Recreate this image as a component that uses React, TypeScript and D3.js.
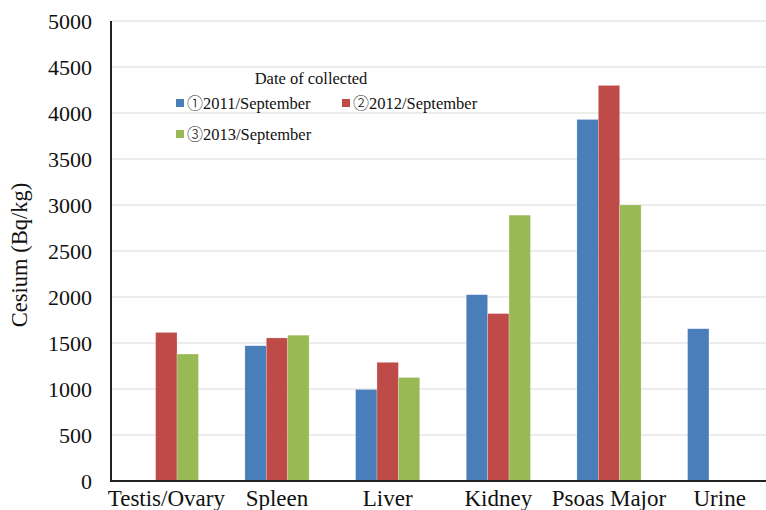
import React from 'react';
import * as d3 from 'd3';

const categories = ['Testis/Ovary', 'Spleen', 'Liver', 'Kidney', 'Psoas Major', 'Urine'];
const series2011 = [null, 1470, 995, 2025, 3930, 1655];
const series2012 = [1615, 1555, 1290, 1820, 4300, null];
const series2013 = [1380, 1585, 1125, 2890, 3000, null];
const seriesMarks = ['①', '②', '③'];
const seriesNames = ['2011/September', '2012/September', '2013/September'];
const seriesColors = ['#4A7EBB', '#BE4B48', '#98B954'];
const yTicks = [0, 500, 1000, 1500, 2000, 2500, 3000, 3500, 4000, 4500, 5000];

const W = 766;
const H = 510;
const margin = { left: 111, top: 21, right: -9, bottom: 29 };
const FONT = '"Liberation Serif", "Times New Roman", serif';
const CJK = '"Noto Sans CJK JP", sans-serif';

const App = () => {
  const innerW = W - margin.left - margin.right;
  const innerH = H - margin.top - margin.bottom;
  const allSeries = [series2011, series2012, series2013];

  const x = d3.scaleBand().domain(categories).range([0, innerW]).paddingInner(0).paddingOuter(0);
  const groupW = x.bandwidth() * 0.58;
  const xs = d3.scaleBand().domain(['0', '1', '2']).range([0, groupW]);
  const y = d3.scaleLinear().domain([0, 5000]).range([innerH, 0]);

  return (
    <svg width={W} height={H} style={{ position: 'absolute', left: 0, top: 0 }}>
      <rect width={W} height={H} fill="#fff" />
      <g transform={`translate(${margin.left},${margin.top})`}>
        {yTicks.map((t) => (
          <line key={t} x1={0} x2={innerW} y1={y(t)} y2={y(t)} stroke="#d9d9d9" strokeWidth={1.2} />
        ))}
        {yTicks.map((t) => (
          <text key={'l' + t} x={-19} y={y(t)} dy="0.35em" textAnchor="end" fontFamily={FONT} fontSize={22} fill="#111">
            {t}
          </text>
        ))}
        {allSeries.map((s, si) =>
          categories.map((c, ci) => {
            const v = s[ci];
            if (v == null) return null;
            const bx = (x(c) as number) + (x.bandwidth() - groupW) / 2 + (xs(String(si)) as number);
            return (
              <rect
                key={si + '-' + ci}
                x={bx}
                y={y(v)}
                width={xs.bandwidth()}
                height={innerH - y(v)}
                fill={seriesColors[si]}
                stroke="#ffffff"
                strokeOpacity={0.4}
                strokeWidth={0.6}
              />
            );
          })
        )}
        <line x1={0} x2={0} y1={0} y2={innerH + 1} stroke="#222" strokeWidth={2} />
        <line x1={0} x2={innerW} y1={innerH} y2={innerH} stroke="#222" strokeWidth={2} />
        {categories.map((c) => (
          <text
            key={c}
            x={(x(c) as number) + x.bandwidth() / 2}
            y={innerH + 25}
            textAnchor="middle"
            fontFamily={FONT}
            fontSize={23}
            fill="#111"
          >
            {c}
          </text>
        ))}
      </g>
      <text
        transform={`translate(27,${margin.top + innerH / 2 + 4}) rotate(-90)`}
        textAnchor="middle"
        fontFamily={FONT}
        fontSize={22.5}
        fill="#111"
      >
        Cesium (Bq/kg)
      </text>
      <g fontFamily={FONT} fontSize={16.5} fill="#111">
        <text x={311} y={84} textAnchor="middle">Date of collected</text>
        {seriesNames.map((n, i) => {
          const lx = i === 1 ? 342 : 176;
          const ly = i === 2 ? 134 : 103;
          return (
            <g key={n}>
              <rect x={lx} y={ly - 4} width={8} height={8} fill={seriesColors[i]} />
              <text x={lx + 11} y={ly} dy="0.35em">
                <tspan fontFamily={CJK} fontSize={16} fontWeight={300}>{seriesMarks[i]}</tspan>
                <tspan>{n}</tspan>
              </text>
            </g>
          );
        })}
      </g>
    </svg>
  );
};

export default App;
